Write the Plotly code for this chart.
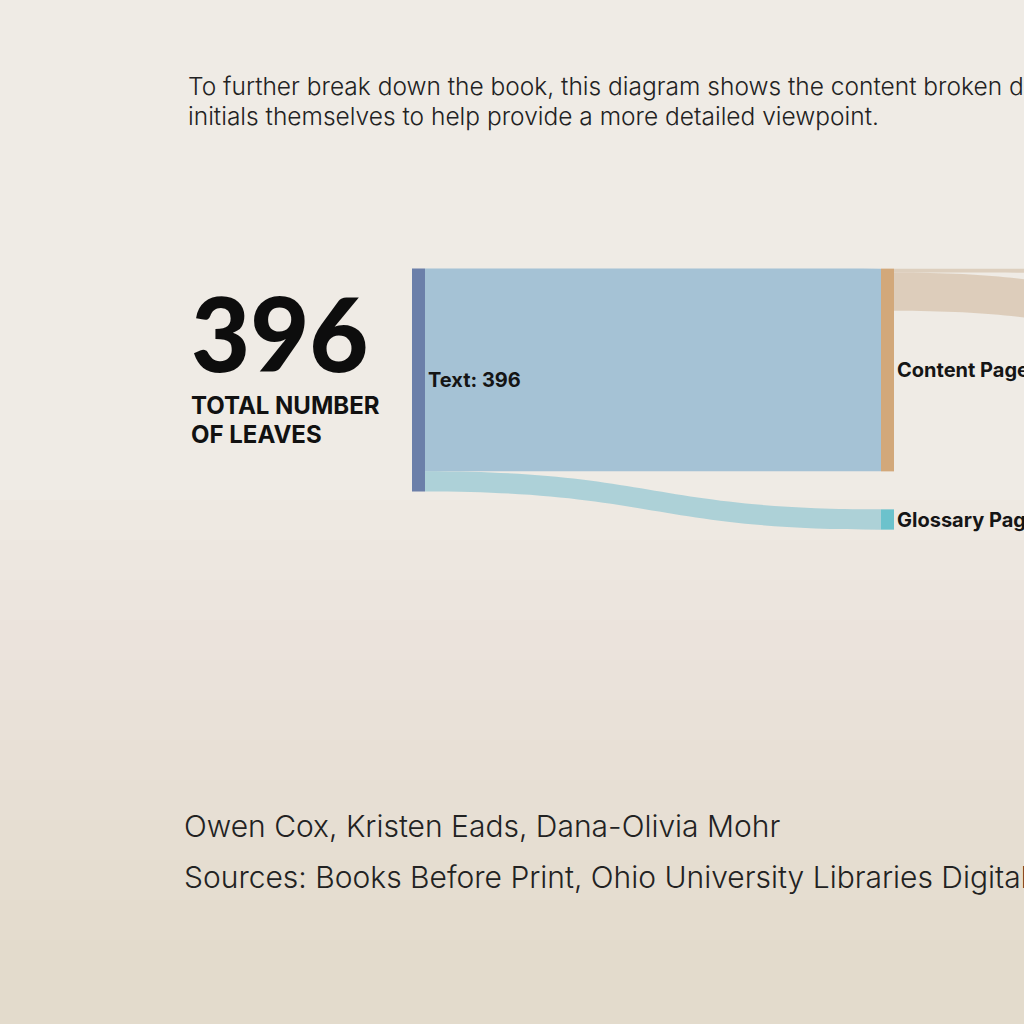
import plotly.graph_objects as go

# ---- data ----
node_labels = ["Text: 396", "Content Pages: 360", "Glossary Pages: 36", "Initials", "Other"]
node_colors = ["#6b7fa9", "#d2a87a", "#6cc2cc", "#c9b59a", "#c9b59a"]
link_source = [0, 0, 1, 1]
link_target = [1, 2, 3, 4]
link_value = [360, 36, 7, 68]
link_colors = ["rgba(158,190,212,0.92)", "rgba(132,194,208,0.62)",
               "rgba(216,200,180,0.8)", "rgba(216,198,176,0.8)"]

W, H = 1600, 1024
def px(x):
    return x / W
def py(y):
    return 1 - y / H

# sankey frame (pixels)
SX0, SX1, SY0, SY1 = 412, 1363, 269, 530
SW, SH = SX1 - SX0, SY1 - SY0
node_cx = [418.5, 887.5, 887.5, 1356.5, 1356.5]
node_cy = [380, 370, 519.5, 271.5, 338]
node_x = [(c - SX0) / SW for c in node_cx]
node_y = [(c - SY0) / SH for c in node_cy]

FONT = "Inter"

fig = go.Figure(go.Sankey(
    arrangement="fixed",
    domain=dict(x=[px(SX0), px(SX1)], y=[py(SY1), py(SY0)]),
    node=dict(label=node_labels, color=node_colors, thickness=13, pad=38,
              line=dict(width=0), align="left", x=node_x, y=node_y),
    link=dict(source=link_source, target=link_target, value=link_value,
              color=link_colors),
    textfont=dict(family=FONT, size=20, color="#151515", weight=700, shadow="none"),
    hoverinfo="none",
))

annotations = [
    dict(x=px(186), y=py(86), text="To further break down the book, this diagram shows the content broken down into pages, text and the illuminated",
         font=dict(family=FONT, size=24.5, color="#222222", weight=300)),
    dict(x=px(186), y=py(116), text="initials themselves to help provide a more detailed viewpoint.",
         font=dict(family=FONT, size=24.5, color="#222222", weight=300)),
    dict(x=px(189), y=py(332), text="396",
         font=dict(family="Lato", size=102, color="#0d0d0d", weight=900)),
    dict(x=px(189), y=py(405), text="TOTAL NUMBER",
         font=dict(family=FONT, size=24, color="#111111", weight=700)),
    dict(x=px(189), y=py(434), text="OF LEAVES",
         font=dict(family=FONT, size=24, color="#111111", weight=700)),
    dict(x=px(182), y=py(826), text="Owen Cox, Kristen Eads, Dana-Olivia Mohr",
         font=dict(family=FONT, size=30, color="#222222", weight=300)),
    dict(x=px(182), y=py(877), text="Sources: Books Before Print, Ohio University Libraries Digital Initiatives",
         font=dict(family=FONT, size=30, color="#222222", weight=300)),
]
for a in annotations:
    a.update(xref="paper", yref="paper", xanchor="left", yanchor="middle", showarrow=False)

# soft paper-tone bands (background only)
shapes = []
bands = 12
for i in range(bands):
    y_top = 500 + i * 40
    shapes.append(dict(type="rect", xref="paper", yref="paper", x0=0, x1=1,
                       y0=0, y1=py(y_top), fillcolor="rgba(214,196,168,0.035)",
                       line=dict(width=0), layer="below"))

fig.update_layout(
    width=W, height=H,
    margin=dict(l=0, r=0, t=0, b=0),
    paper_bgcolor="#efebe5",
    plot_bgcolor="#efebe5",
    annotations=annotations,
    shapes=shapes,
)

fig.write_html("out.html",
               post_script="document.documentElement.style.overflow='hidden';document.body.style.overflow='hidden';document.body.style.margin='0';")
